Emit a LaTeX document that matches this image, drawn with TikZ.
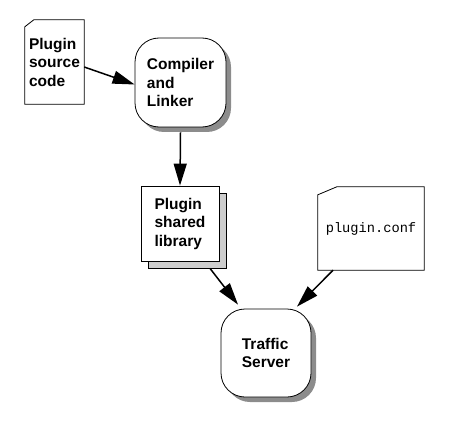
\documentclass[tikz,border=0pt]{standalone}
\usepackage{fontspec}
\setmainfont{Liberation Sans}
\setmonofont{Liberation Mono}
\usetikzlibrary{arrows.meta, shadows, positioning, calc}
\definecolor{shadowgray}{RGB}{140, 140, 140}
\definecolor{sheetgray}{RGB}{205, 205, 205}

\tikzset{
  label font/.style={font=\fontsize{15.5}{18.5}\selectfont\bfseries, align=left},
  docsheet/.style={inner sep=0pt},
  sheet line/.style={line width=0.8pt},
  toolbox/.style={draw, line width=0.8pt, fill=white, rounded corners=24pt,
    inner sep=0pt, label font,
    drop shadow={shadow xshift=5pt, shadow yshift=-5pt, fill=shadowgray, opacity=1}},
  stackbox/.style={draw, line width=0.8pt, fill=white, inner sep=0pt, label font,
    copy shadow={shadow xshift=7pt, shadow yshift=-7pt, fill=sheetgray, draw=black}},
  flow/.style={line width=1.5pt, -{Triangle[length=22pt, width=13pt]}}
}

\begin{document}
\begin{tikzpicture}[x=1pt, y=-1pt]
  \useasboundingbox (0,0) rectangle (462,422);

  % sources and tools
  \node[docsheet, label font, minimum width=59pt, minimum height=84pt] (src) at (54.5,62) {Plugin\\source\\code};
  \node[toolbox, minimum width=91pt, minimum height=89pt] (cmp) at (180.5,82.5) {Compiler\\and\\Linker};
  \node[stackbox, minimum width=78pt, minimum height=75pt] (lib) at (180,223.5) {Plugin\\shared\\library};
  \node[docsheet, minimum width=106pt, minimum height=83pt, font=\fontsize{13.7}{16}\selectfont\ttfamily] (conf) at (371,228.5) {plugin.conf};
  \node[toolbox, minimum width=90pt, minimum height=88pt] (ts) at (266,353) {Traffic\\Server};

  % sheets with a cut corner
  \draw[sheet line] (src.south west) -- ([yshift=-7pt]src.north west) -- ([xshift=9pt]src.north west)
    -- (src.north east) -- (src.south east) -- cycle;
  \draw[sheet line] (conf.south west) -- ([yshift=-8pt]conf.north west) -- ([xshift=19pt]conf.north west)
    -- (conf.north east) -- (conf.south east) -- cycle;

  % connectors
  \draw[flow] ([yshift=-5pt]src.east) -- ([yshift=-2pt]cmp.west);
  \draw[flow] ([yshift=-5pt]cmp.south) -- (lib.north);
  \draw[flow] ([shift={(30pt,-7pt)}]lib.south) -- ([shift={(-28pt,4pt)}]ts.north);
  \draw[flow] ([xshift=-38pt]conf.south) -- ([shift={(31pt,2pt)}]ts.north);
\end{tikzpicture}
\end{document}
